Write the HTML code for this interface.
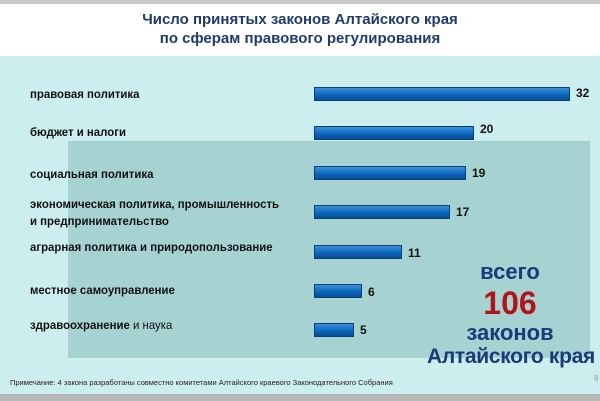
<!DOCTYPE html>
<html><head><meta charset="utf-8"><style>
body{margin:0;width:600px;height:401px;position:relative;overflow:hidden;background:#fff;font-family:"Liberation Sans",sans-serif}
div{position:absolute}
.t{left:0;width:600px;text-align:center;color:#1f3a6e;font-weight:bold;font-size:15px}
.l{left:30px;font-size:12px;font-weight:bold;color:#111;line-height:17px;transform:scaleX(0.95);transform-origin:left}
.b{left:314px;height:14px;background:linear-gradient(#3b8fd8,#0a63b8 60%,#0b4f94);border:1px solid #0b3f78;box-sizing:border-box}
.v{font-size:12px;font-weight:bold;color:#111}
.r{left:420px;width:180px;text-align:center;font-weight:bold;color:#1a3a78;font-size:22px}
</style></head><body>
<div style="left:0;top:0;width:600px;height:4px;background:#c8c8c8"></div>
<div class="t" style="top:11px">Число принятых законов Алтайского края</div>
<div class="t" style="top:30px">по сферам правового регулирования</div>
<div style="left:0;top:56px;width:600px;height:338px;background:#cdeeef"></div>
<div style="left:68px;top:141px;width:522px;height:217px;background:#a6d3d2"></div>
<div style="left:0;top:394px;width:600px;height:7px;background:#b8b8b8"></div>

<div class="l" style="top:86px">правовая политика</div>
<div class="b" style="top:87px;width:256px"></div><div class="v" style="left:576px;top:86px">32</div>
<div class="l" style="top:124px">бюджет и налоги</div>
<div class="b" style="top:126px;width:160px"></div><div class="v" style="left:480px;top:122px">20</div>
<div class="l" style="top:166px">социальная политика</div>
<div class="b" style="top:166px;width:152px"></div><div class="v" style="left:472px;top:166px">19</div>
<div class="l" style="top:196px">экономическая политика, промышленность<br>и предпринимательство</div>
<div class="b" style="top:205px;width:136px"></div><div class="v" style="left:456px;top:205px">17</div>
<div class="l" style="top:239px">аграрная политика и природопользование</div>
<div class="b" style="top:245px;width:88px"></div><div class="v" style="left:408px;top:246px">11</div>
<div class="l" style="top:282px">местное самоуправление</div>
<div class="b" style="top:284px;width:48px"></div><div class="v" style="left:368px;top:285px">6</div>
<div class="l" style="top:317px">здравоохранение <span style="font-weight:normal">и наука</span></div>
<div class="b" style="top:323px;width:40px"></div><div class="v" style="left:360px;top:323px">5</div>

<div class="r" style="top:259px">всего</div>
<div class="r" style="top:285px;color:#b0141a;font-size:32px">106</div>
<div class="r" style="top:320px">законов</div>
<div class="r" style="top:345px;left:420px;width:182px;font-size:21px;letter-spacing:-0.3px">Алтайского края</div>
<div style="left:10px;top:378px;font-size:7.5px;color:#222">Примечание: 4 закона разработаны совместно комитетами Алтайского краевого Законодательного Собрания</div>
<div style="left:594px;top:374px;font-size:8px;color:#999">8</div>
</body></html>
